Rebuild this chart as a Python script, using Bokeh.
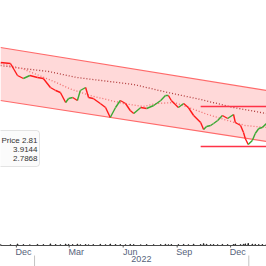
import pandas as pd
from bokeh.plotting import figure
from bokeh.layouts import column
from bokeh.models import (Range1d, BoxAnnotation, Label, ColumnDataSource, Span)
from bokeh.embed import file_html
from bokeh.resources import INLINE

# ---------------- data ----------------
dates = ["2021-11-04", "2021-11-21", "2021-12-03", "2021-12-13", "2021-12-24", "2022-01-06",
         "2022-01-16", "2022-01-28", "2022-02-06", "2022-02-14", "2022-02-23", "2022-02-28",
         "2022-03-07", "2022-03-15", "2022-03-20", "2022-03-29", "2022-04-03", "2022-04-11",
         "2022-04-23", "2022-05-02", "2022-05-10", "2022-05-19", "2022-05-27", "2022-06-05",
         "2022-06-13", "2022-06-19", "2022-07-01", "2022-07-11", "2022-07-23", "2022-08-04",
         "2022-08-12", "2022-08-17", "2022-08-22", "2022-09-03", "2022-09-12", "2022-09-20",
         "2022-09-29", "2022-10-11", "2022-10-16", "2022-10-21", "2022-10-28", "2022-11-02",
         "2022-11-09", "2022-11-17", "2022-11-26", "2022-12-06", "2022-12-09", "2022-12-18",
         "2022-12-23", "2022-12-26", "2022-12-31", "2023-01-07", "2023-01-12", "2023-01-18",
         "2023-01-24", "2023-01-31"]
close = [3.42, 3.41, 3.29, 3.26, 3.29, 3.27,
         3.26, 3.17, 3.14, 3.12, 3.02, 3.06,
         3.07, 3.04, 3.14, 3.17, 3.07, 3.06,
         3.01, 2.97, 2.87, 2.97, 3.04, 3.01,
         2.94, 2.91, 2.97, 2.96, 2.99, 3.04,
         3.09, 3.09, 3.04, 2.97, 3.01, 2.97,
         2.89, 2.82, 2.75, 2.78, 2.79, 2.81,
         2.84, 2.89, 2.86, 2.90, 2.82, 2.79,
         2.72, 2.66, 2.60, 2.64, 2.71, 2.76,
         2.77, 2.81]
volume = [1.2, 0.8, 1.5, 0.9, 0.7, 1.1,
          0.9, 1.6, 1.0, 0.8, 1.4, 1.1,
          0.9, 1.3, 0.8, 1.0, 0.7, 0.9,
          1.2, 0.8, 1.5, 1.0, 0.9, 0.8,
          1.1, 0.9, 0.7, 1.0, 0.8, 0.9,
          1.2, 0.8, 1.0, 0.9, 1.1, 0.8,
          1.3, 1.0, 1.8, 1.2, 0.9, 1.0,
          0.8, 1.1, 0.9, 1.0, 1.4, 0.9,
          1.2, 1.6, 2.0, 1.3, 1.1, 0.9,
          1.0, 1.2]

ma_long_dates = ["2021-11-04", "2021-12-12", "2022-01-25", "2022-03-14", "2022-06-19",
                 "2022-08-16", "2022-10-11", "2022-12-06", "2023-01-31"]
ma_long = [3.39, 3.36, 3.33, 3.27, 3.20, 3.12, 3.05, 2.97, 2.91]

ma_short_dates = ["2021-11-04", "2021-12-10", "2022-01-09", "2022-02-07", "2022-03-01",
                  "2022-04-05", "2022-05-04", "2022-06-01", "2022-07-05", "2022-07-28",
                  "2022-08-27", "2022-09-25", "2022-10-23", "2022-11-26", "2022-12-26",
                  "2023-01-31"]
ma_short = [3.41, 3.36, 3.29, 3.22, 3.16, 3.09, 3.05, 3.01, 2.98, 3.01,
            3.02, 2.96, 2.90, 2.84, 2.79, 2.77]

channel_dates = ["2021-11-04", "2023-01-31"]
channel_upper = [3.57, 3.14]
channel_lower = [3.04, 2.63]

level_dates = ["2022-10-11", "2023-01-31"]
resistance = [2.98, 2.98]
support = [2.58, 2.58]

month_starts = ["2021-12-01", "2022-03-01", "2022-06-01", "2022-09-01", "2022-12-01"]
month_labels = ["Dec", "Mar", "Jun", "Sep", "Dec"]
year_bounds = ["2022-01-01", "2023-01-01"]
year_mids = ["2022-07-02"]
year_labels = ["2022"]

legend_rows = ["Price 2.81", "3.9144", "2.7868"]

# ---------------- helpers ----------------
def ms(d):
    return float(pd.Timestamp(d).value // 10**6)

X0 = pd.Timestamp("2021-11-04")
PX_PER_DAY = 0.587
P_TOP, P_BOT = 4.04, 2.36
TOP_H = 168

def xpx(px):
    return ms(X0 + pd.Timedelta(days=px / PX_PER_DAY))

def ypx(py):
    return P_TOP - (P_TOP - P_BOT) * py / TOP_H

x_range = Range1d(xpx(0), xpx(266))

dt = pd.to_datetime(dates)
src = ColumnDataSource(dict(
    x0=dt[:-1], x1=dt[1:], y0=close[:-1], y1=close[1:],
    c=["#3aa832" if b >= a else "#ff1a1a" for a, b in zip(close[:-1], close[1:])],
))

# ---------------- top price panel ----------------
p1 = figure(width=266, height=TOP_H, x_axis_type="datetime", x_range=x_range,
            y_range=Range1d(P_BOT, P_TOP), output_backend="svg", toolbar_location=None,
            x_axis_location=None, y_axis_location=None, min_border=0,
            outline_line_color=None, background_fill_color="white")
p1.grid.visible = False

cd = pd.to_datetime(channel_dates)
p1.varea(x=cd, y1=channel_lower, y2=channel_upper, fill_color="#ffd9d9", fill_alpha=1)
p1.line(cd, channel_upper, line_color="#ff6a6a", line_width=1.2)
p1.line(cd, channel_lower, line_color="#ff6a6a", line_width=1.2)

p1.line(pd.to_datetime(ma_long_dates), ma_long, line_color="#b03a3a", line_width=1.3,
        line_dash="1 2")
p1.line(pd.to_datetime(ma_short_dates), ma_short, line_color="#f07070", line_width=1.3,
        line_dash="1 2")

ld = pd.to_datetime(level_dates)
p1.line(ld, resistance, line_color="#ff3347", line_width=1.6)
p1.line(ld, support, line_color="#ff3347", line_width=1.6)

p1.segment(x0="x0", y0="y0", x1="x1", y1="y1", line_color="c", line_width=1.4, source=src)

p1.add_layout(BoxAnnotation(left=xpx(-6), right=xpx(39), top=ypx(130), bottom=ypx(166),
                            fill_color="#fbfbfb", fill_alpha=1, line_color="#a8a8a8",
                            line_width=1, border_radius=3))
rows_y = [140, 149, 158]
for txt, ry in zip(legend_rows, rows_y):
    p1.add_layout(Label(x=xpx(37), y=ypx(ry), text=txt, text_align="right",
                        text_baseline="middle", text_font="Liberation Sans",
                        text_font_size="8px", text_color="#333333"))

# ---------------- separator ----------------
sep = figure(width=266, height=3, output_backend="svg", toolbar_location=None,
             x_axis_location=None, y_axis_location=None, min_border=0,
             outline_line_color=None, background_fill_color="#6e6e6e",
             border_fill_color="#6e6e6e")
sep.grid.visible = False

# ---------------- volume panel with date scale ----------------
BOT_H = 95
AXIS_PX = 74          # pixels from top of the panel to the date-axis line
VOL_PER_PX = 1.0
p2 = figure(width=266, height=BOT_H, x_axis_type="datetime", x_range=x_range,
            y_range=Range1d(-(BOT_H - AXIS_PX) * VOL_PER_PX, AXIS_PX * VOL_PER_PX),
            output_backend="svg", toolbar_location=None,
            x_axis_location=None, y_axis_location=None, min_border=0,
            outline_line_color=None)
p2.grid.visible = False
p2.vbar(x=dt, top=volume, width=86400000 * 1.0, color="#222222")
p2.add_layout(Span(location=0, dimension="width", line_color="#4a4a4a", line_width=1))

def vpx(px):  # pixels below the axis line -> panel units
    return -px * VOL_PER_PX

ms_dt = pd.to_datetime(month_starts)
p2.segment(x0=ms_dt, y0=[0] * len(ms_dt), x1=ms_dt, y1=[vpx(2)] * len(ms_dt),
           line_color="#555555", line_width=1)
label_x = ms_dt + pd.Timedelta(days=12)
p2.text(x=label_x, y=[vpx(1.5)] * len(label_x), text=month_labels,
        text_align="center", text_baseline="top", text_font={"value": "Liberation Sans"},
        text_font_size="9px", text_color="#56627a")

yb = pd.to_datetime(year_bounds)
p2.segment(x0=yb, y0=[vpx(10)] * len(yb), x1=yb, y1=[vpx(22)] * len(yb),
           line_color="#c4c4c4", line_width=1)
p2.text(x=pd.to_datetime(year_mids), y=[vpx(10.5)] * len(year_mids), text=year_labels,
        text_align="center", text_baseline="top", text_font={"value": "Liberation Sans"},
        text_font_size="9px", text_color="#56627a")

layout = column(p1, sep, p2, spacing=0)
open("out.html", "w").write(file_html(layout, INLINE))
